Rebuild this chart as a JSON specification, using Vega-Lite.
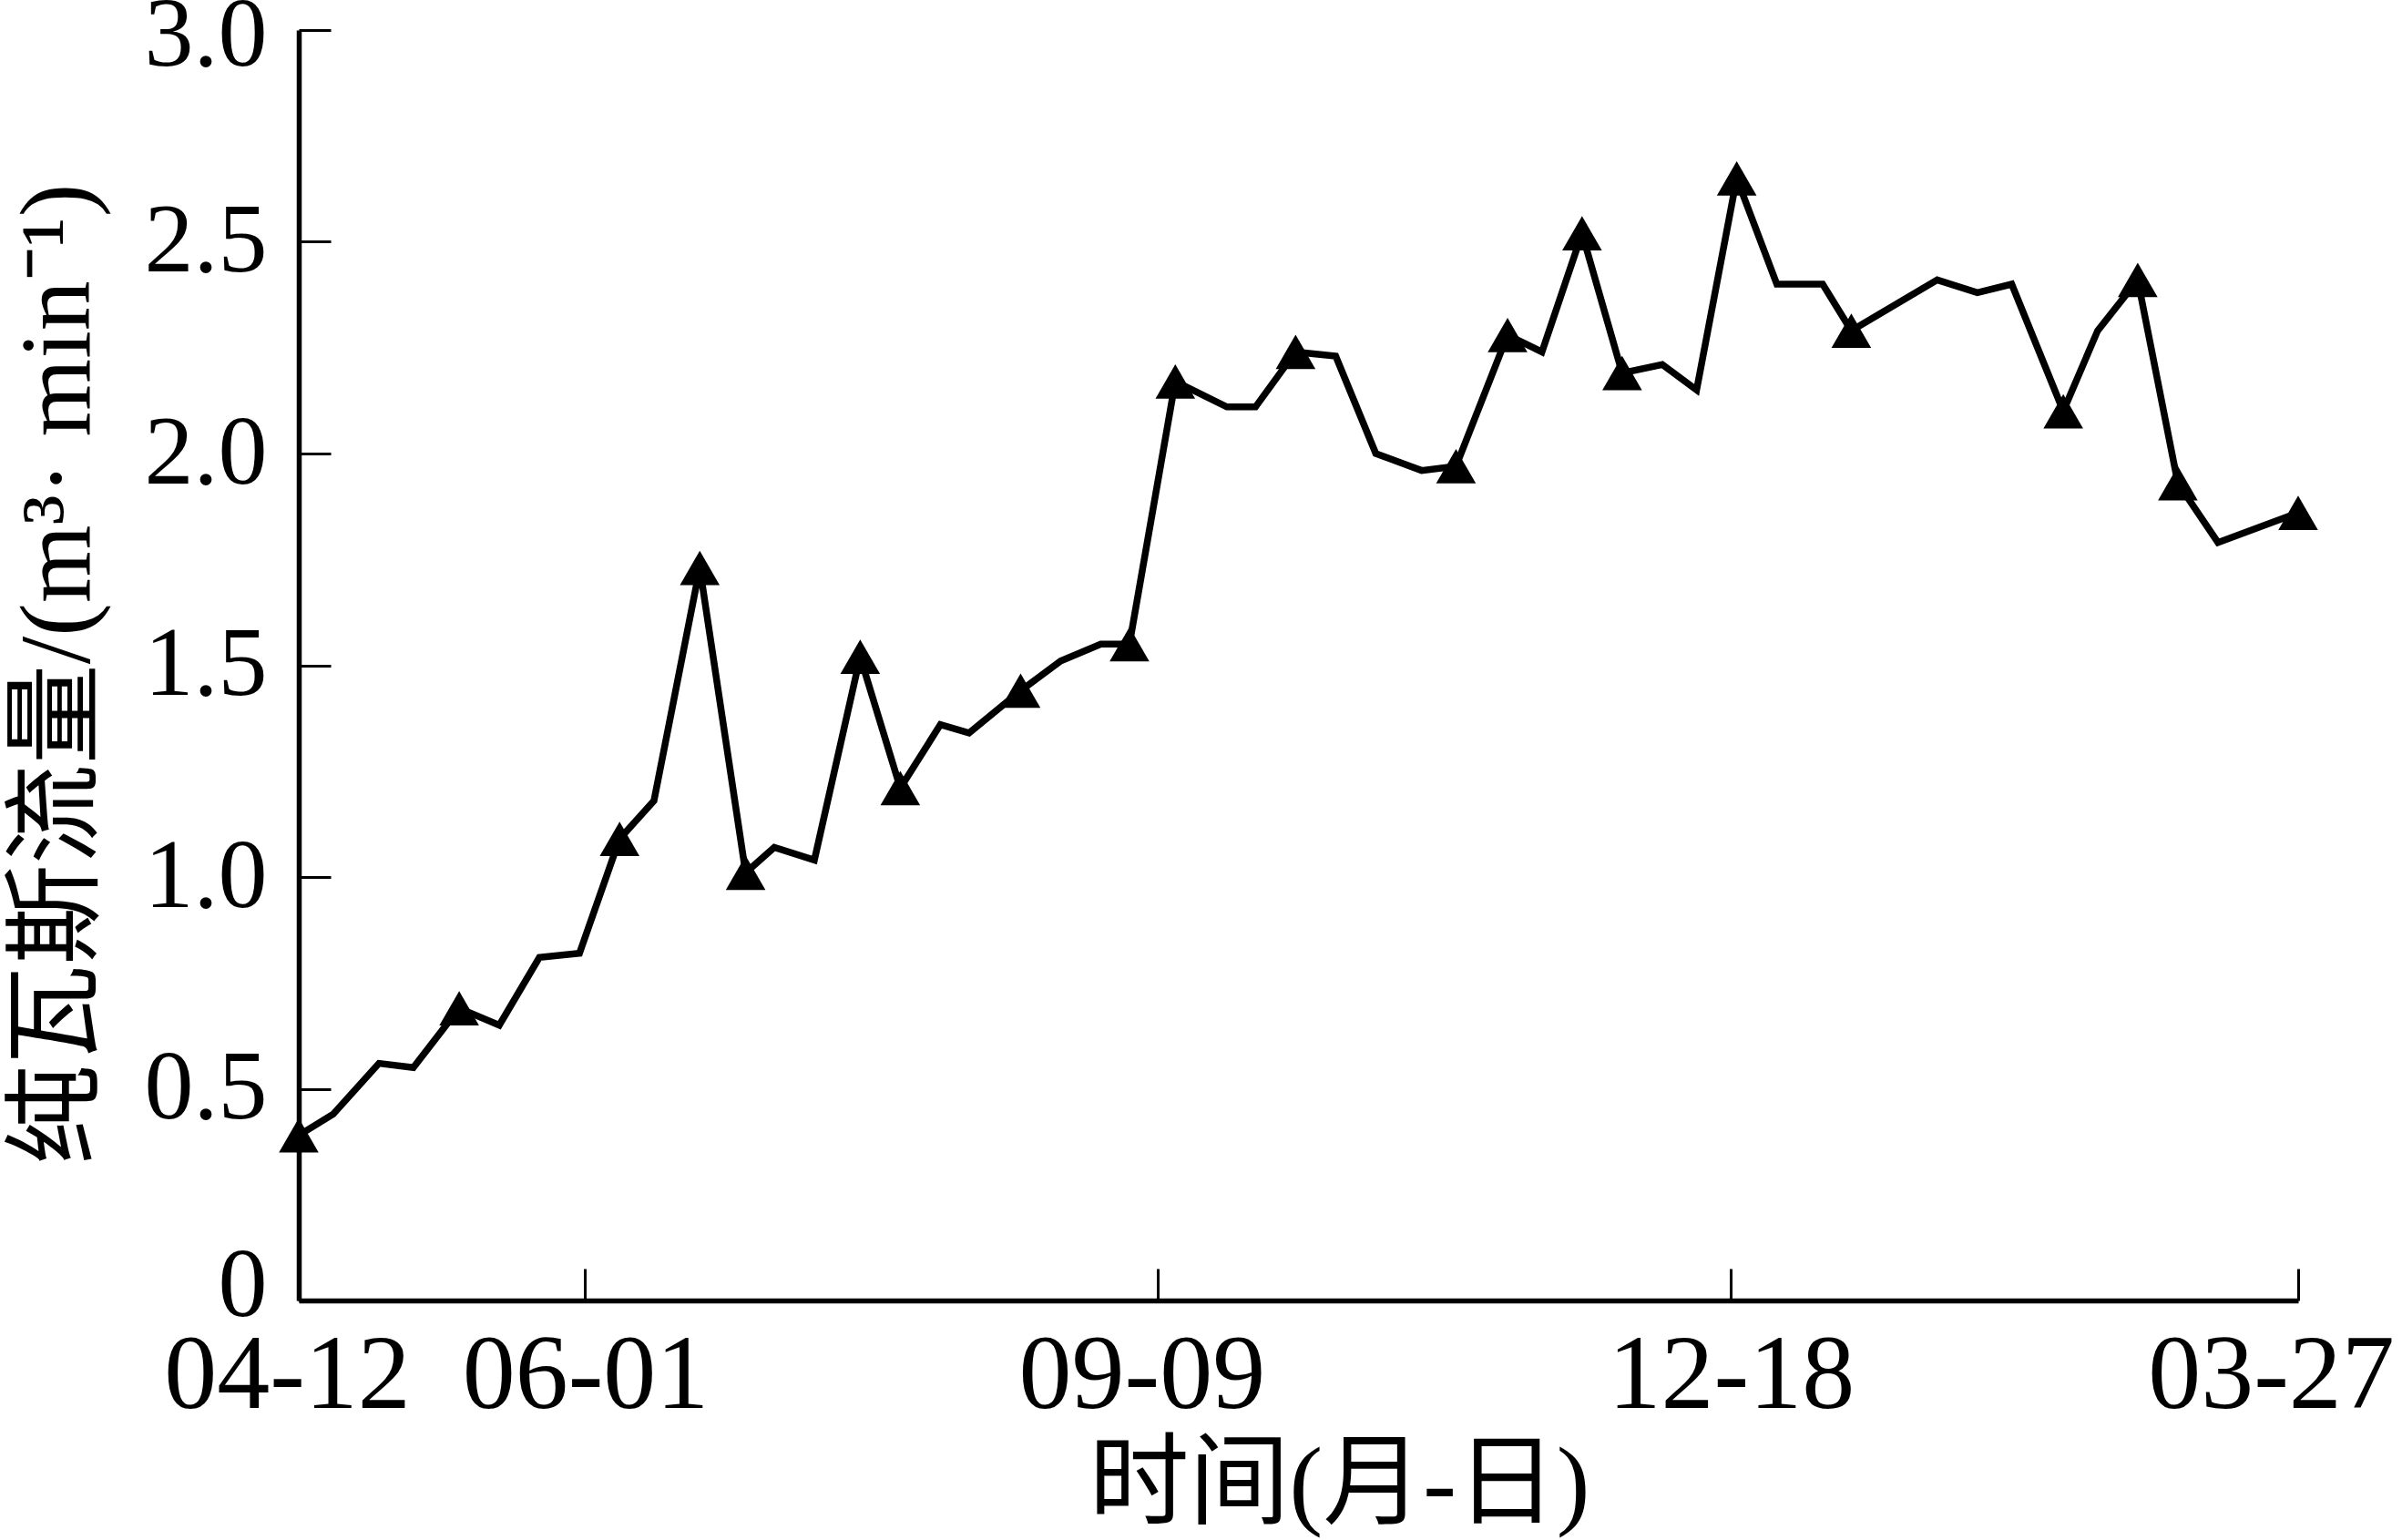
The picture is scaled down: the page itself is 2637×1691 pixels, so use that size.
{
  "$schema": "https://vega.github.io/schema/vega-lite/v6.json",
  "width": 2195,
  "height": 1395,
  "autosize": {"type": "none"},
  "padding": {"left": 328, "top": 33, "right": 114, "bottom": 263},
  "background": "white",
  "config": {
    "view": {"stroke": null},
    "axis": {"grid": false, "domainColor": "black", "tickColor": "black", "labelColor": "black", "titleColor": "black", "labelFont": "Liberation Serif", "titleFont": "Liberation Serif, Noto Sans CJK SC", "labelLimit": 0, "titleLimit": 0}
  },
  "data": {"values": [
    {"date": "2013-04-12", "flow": 0.39, "tri": true},
    {"date": "2013-04-18", "flow": 0.44, "tri": false},
    {"date": "2013-04-26", "flow": 0.56, "tri": false},
    {"date": "2013-05-02", "flow": 0.55, "tri": false},
    {"date": "2013-05-10", "flow": 0.69, "tri": true},
    {"date": "2013-05-17", "flow": 0.65, "tri": false},
    {"date": "2013-05-24", "flow": 0.81, "tri": false},
    {"date": "2013-05-31", "flow": 0.82, "tri": false},
    {"date": "2013-06-07", "flow": 1.09, "tri": true},
    {"date": "2013-06-13", "flow": 1.18, "tri": false},
    {"date": "2013-06-21", "flow": 1.73, "tri": true},
    {"date": "2013-06-29", "flow": 1.01, "tri": true},
    {"date": "2013-07-04", "flow": 1.07, "tri": false},
    {"date": "2013-07-11", "flow": 1.04, "tri": false},
    {"date": "2013-07-19", "flow": 1.52, "tri": true},
    {"date": "2013-07-26", "flow": 1.21, "tri": true},
    {"date": "2013-08-02", "flow": 1.36, "tri": false},
    {"date": "2013-08-07", "flow": 1.34, "tri": false},
    {"date": "2013-08-16", "flow": 1.44, "tri": true},
    {"date": "2013-08-23", "flow": 1.51, "tri": false},
    {"date": "2013-08-30", "flow": 1.55, "tri": false},
    {"date": "2013-09-04", "flow": 1.55, "tri": true},
    {"date": "2013-09-12", "flow": 2.17, "tri": true},
    {"date": "2013-09-21", "flow": 2.11, "tri": false},
    {"date": "2013-09-26", "flow": 2.11, "tri": false},
    {"date": "2013-10-03", "flow": 2.24, "tri": true},
    {"date": "2013-10-10", "flow": 2.23, "tri": false},
    {"date": "2013-10-17", "flow": 2.0, "tri": false},
    {"date": "2013-10-25", "flow": 1.96, "tri": false},
    {"date": "2013-10-31", "flow": 1.97, "tri": true},
    {"date": "2013-11-09", "flow": 2.28, "tri": true},
    {"date": "2013-11-15", "flow": 2.24, "tri": false},
    {"date": "2013-11-22", "flow": 2.52, "tri": true},
    {"date": "2013-11-29", "flow": 2.19, "tri": true},
    {"date": "2013-12-06", "flow": 2.21, "tri": false},
    {"date": "2013-12-12", "flow": 2.15, "tri": false},
    {"date": "2013-12-19", "flow": 2.65, "tri": true},
    {"date": "2013-12-26", "flow": 2.40, "tri": false},
    {"date": "2014-01-03", "flow": 2.40, "tri": false},
    {"date": "2014-01-08", "flow": 2.29, "tri": true},
    {"date": "2014-01-23", "flow": 2.41, "tri": false},
    {"date": "2014-01-30", "flow": 2.38, "tri": false},
    {"date": "2014-02-05", "flow": 2.40, "tri": false},
    {"date": "2014-02-14", "flow": 2.10, "tri": true},
    {"date": "2014-02-20", "flow": 2.29, "tri": false},
    {"date": "2014-02-27", "flow": 2.41, "tri": true},
    {"date": "2014-03-06", "flow": 1.93, "tri": true},
    {"date": "2014-03-13", "flow": 1.79, "tri": false},
    {"date": "2014-03-27", "flow": 1.86, "tri": true}
  ]},
  "encoding": {
    "x": {
      "field": "date",
      "type": "temporal",
      "scale": {"type": "utc", "domain": [{"year": 2013, "month": 4, "date": 12, "utc": true}, {"year": 2014, "month": 3, "date": 27, "utc": true}]},
      "axis": {
        "values": [
          {"year": 2013, "month": 4, "date": 12, "utc": true},
          {"year": 2013, "month": 6, "date": 1, "utc": true},
          {"year": 2013, "month": 9, "date": 9, "utc": true},
          {"year": 2013, "month": 12, "date": 18, "utc": true},
          {"year": 2014, "month": 3, "date": 27, "utc": true}
        ],
        "labelExpr": "utcFormat(datum.value, '%m-%d')",
        "labelFontSize": 116,
        "labelFlush": false,
        "labelBound": false,
        "labelOverlap": false,
        "labelOffset": {"condition": [
          {"test": "utcmonth(datum.value) == 2", "value": -30},
          {"test": "utcmonth(datum.value) == 3", "value": -13},
          {"test": "utcmonth(datum.value) == 8", "value": -18}
        ], "value": 0},
        "tickSize": -35,
        "tickWidth": 3,
        "domainWidth": 5.5,
        "labelPadding": 60,
        "title": "时间(月-日)",
        "titleFontSize": 110,
        "titleFontWeight": "normal",
        "titleX": 1142,
        "titleY": 203,
        "titleBaseline": "middle",
        "titleAlign": "center"
      }
    },
    "y": {
      "field": "flow",
      "type": "quantitative",
      "scale": {"domain": [0, 3], "nice": false, "zero": true},
      "axis": {
        "values": [0, 0.5, 1, 1.5, 2, 2.5, 3],
        "labelExpr": "datum.value == 0 ? '0' : format(datum.value, '.1f')",
        "labelFontSize": 108,
        "labelOverlap": false,
        "labelOffset": {"condition": [
          {"test": "datum.value == 0", "value": -16},
          {"test": "datum.value == 3", "value": 6}
        ], "value": 0},
        "tickSize": -35,
        "tickWidth": 3,
        "domainWidth": 5.5,
        "labelPadding": 70,
        "title": "纯瓦斯流量/(m³· min⁻¹)",
        "titleFontSize": 110,
        "titleFontWeight": "normal",
        "titleX": -264,
        "titleY": 707,
        "titleAngle": -90,
        "titleBaseline": "middle",
        "titleAlign": "center"
      }
    }
  },
  "layer": [
    {"mark": {"type": "line", "color": "black", "strokeWidth": 7.5}},
    {
      "transform": [{"filter": "datum.tri"}],
      "mark": {"type": "point", "shape": "triangle-up", "filled": true, "color": "black", "size": 1900, "opacity": 1, "strokeWidth": 0}
    }
  ]
}
